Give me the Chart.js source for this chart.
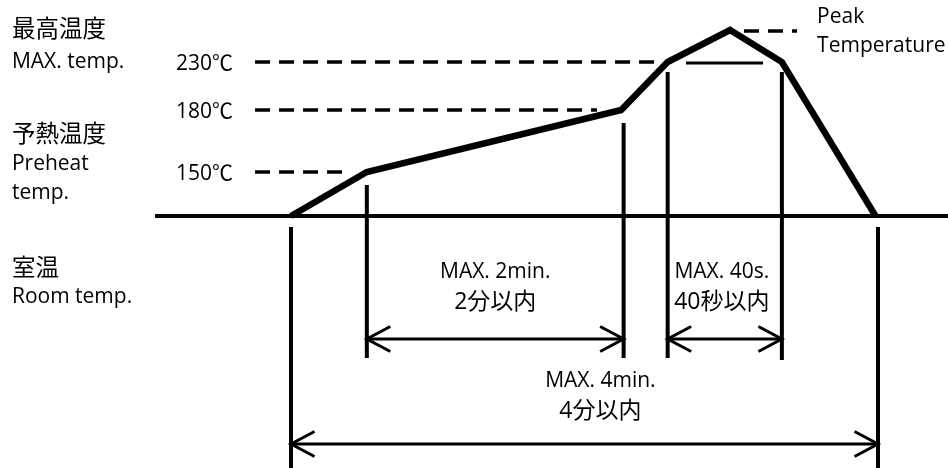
<!DOCTYPE html>
<html>
<head>
<meta charset="utf-8">
<script src="https://cdn.jsdelivr.net/npm/chart.js@4"></script>
<style>
body { margin: 0; background: #fff; }
#wrap { width: 948px; height: 468px; position: relative; }
</style>
</head>
<body>
<div id="wrap"><canvas id="myChart"></canvas></div>
<script>
// reflow profile, schematic units: x = time from start, y = level above room temp
const profileTime = [0, 31, 135, 154, 179.5, 200.7, 239];
const profileLevel = [0, 44, 106, 154, 186, 154, 0];

// dashed guide lines (230, 180, 150, peak)
const tickLabels = ["230℃", "180℃", "150℃"];
const dashLevel = [154, 106, 44, 185];
const dashFrom = [-14.7, -14.7, -14.7, 185.2];
const dashTo = [148.8, 125.1, 23.3, 206.9];

// room temp line and the short mark under the peak
const baseFrom = -55.6;
const baseTo = 268.6;
const markFrom = 161.5;
const markTo = 193;
const markLevel = 153;

// vertical guides
const guideTime = [0, 31, 136, 154, 200.7, 240];
const guideTop = [-11, 31, 93, 144, 144, -11];
const guideBottom = [-252, -142, -142, -142, -144, -252];

// duration arrows
const arrowFrom = [31, 154, 0];
const arrowTo = [136, 200.7, 240];
const arrowLevel = [-123, -123, -228];
const arrowText1 = ["MAX. 2min.", "MAX. 40s.", "MAX. 4min."];
const arrowText2 = ["2分以内", "40秒以内", "4分以内"];

const headLen = 9.6;
const headHalf = 12.5;

function seg(points, width, dash) {
  return {
    data: points,
    showLine: true,
    borderColor: "#000",
    borderWidth: width,
    borderDash: dash || [],
    pointRadius: 0,
    borderCapStyle: "butt",
    borderJoinStyle: "miter",
    tension: 0
  };
}

var datasets = [];

datasets.push(seg([{x: baseFrom, y: 0}, {x: baseTo, y: 0}], 4));

for (let i = 0; i < dashLevel.length; i++) {
  datasets.push(seg([{x: dashFrom[i], y: dashLevel[i]}, {x: dashTo[i], y: dashLevel[i]}], 3.5, [15, 9]));
}

datasets.push(seg([{x: markFrom, y: markLevel}, {x: markTo, y: markLevel}], 3));

for (let i = 0; i < guideTime.length; i++) {
  datasets.push(seg([{x: guideTime[i], y: guideTop[i]}, {x: guideTime[i], y: guideBottom[i]}], 4));
}

for (let i = 0; i < arrowFrom.length; i++) {
  let a = arrowFrom[i], b = arrowTo[i], l = arrowLevel[i];
  datasets.push(seg([{x: a, y: l}, {x: b, y: l}], 3));
  datasets.push(seg([{x: a + headLen, y: l + headHalf}, {x: a, y: l}, {x: a + headLen, y: l - headHalf}], 3));
  datasets.push(seg([{x: b - headLen, y: l + headHalf}, {x: b, y: l}, {x: b - headLen, y: l - headHalf}], 3));
}

var profile = [];
for (let i = 0; i < profileTime.length; i++) {
  profile.push({x: profileTime[i], y: profileLevel[i]});
}
datasets.push(seg(profile, 6.5));

const latin = "21px 'Open Sans', 'Noto Sans CJK JP', sans-serif";
const cjk = "23.5px 'Noto Sans CJK JP', sans-serif";
const mixed = "23px 'Open Sans', 'Noto Sans CJK JP', sans-serif";

const textPlugin = {
  id: "texts",
  afterDraw(chart) {
    const c = chart.ctx;
    const xs = chart.scales.x;
    const ys = chart.scales.y;
    const px = (v) => xs.getPixelForValue(v);
    const py = (v) => ys.getPixelForValue(v);
    function put(txt, x, y, font, align, base) {
      c.font = font;
      c.textAlign = align;
      c.textBaseline = base;
      c.fillText(txt, x, y);
    }
    c.save();
    c.fillStyle = "#000";

    // left side captions
    let left = px(-114.1);
    put("最高温度", left, py(188), cjk, "left", "middle");
    put("MAX. temp.", left, py(148), latin, "left", "alphabetic");
    put("予熱温度", left, py(83), cjk, "left", "middle");
    put("Preheat", left, py(46), latin, "left", "alphabetic");
    put("temp.", left, py(17), latin, "left", "alphabetic");
    put("室温", left, py(-51), cjk, "left", "middle");
    put("Room temp.", left, py(-87), latin, "left", "alphabetic");

    // temperature levels
    for (let i = 0; i < tickLabels.length; i++) {
      put(tickLabels[i], px(-47), py(dashLevel[i]) + 2, latin, "left", "middle");
    }

    put("Peak", px(215.1), py(193), latin, "left", "alphabetic");
    put("Temperature", px(215.1), py(164), latin, "left", "alphabetic");

    // arrow captions
    const capX = [(arrowFrom[0] + arrowTo[0]) / 2, (arrowFrom[1] + arrowTo[1]) / 2 - 1.2, 126.5];
    const capY = [-62, -62, -171];
    for (let i = 0; i < arrowText1.length; i++) {
      put(arrowText1[i], px(capX[i]), py(capY[i]), latin, "center", "alphabetic");
      put(arrowText2[i], px(capX[i]), py(capY[i] - 24), mixed, "center", "middle");
    }
    c.restore();
  }
};

var ctx = document.getElementById("myChart");
var myChart = new Chart(ctx, {
  type: "scatter",
  data: { datasets: datasets },
  options: {
    responsive: true,
    maintainAspectRatio: false,
    animation: false,
    events: [],
    layout: { padding: 0 },
    plugins: { legend: { display: false }, tooltip: { enabled: false } },
    scales: {
      x: { type: "linear", display: false, min: -118.98, max: 268.62 },
      y: { type: "linear", display: false, min: -252, max: 216 }
    }
  },
  plugins: [textPlugin]
});
</script>
</body>
</html>
